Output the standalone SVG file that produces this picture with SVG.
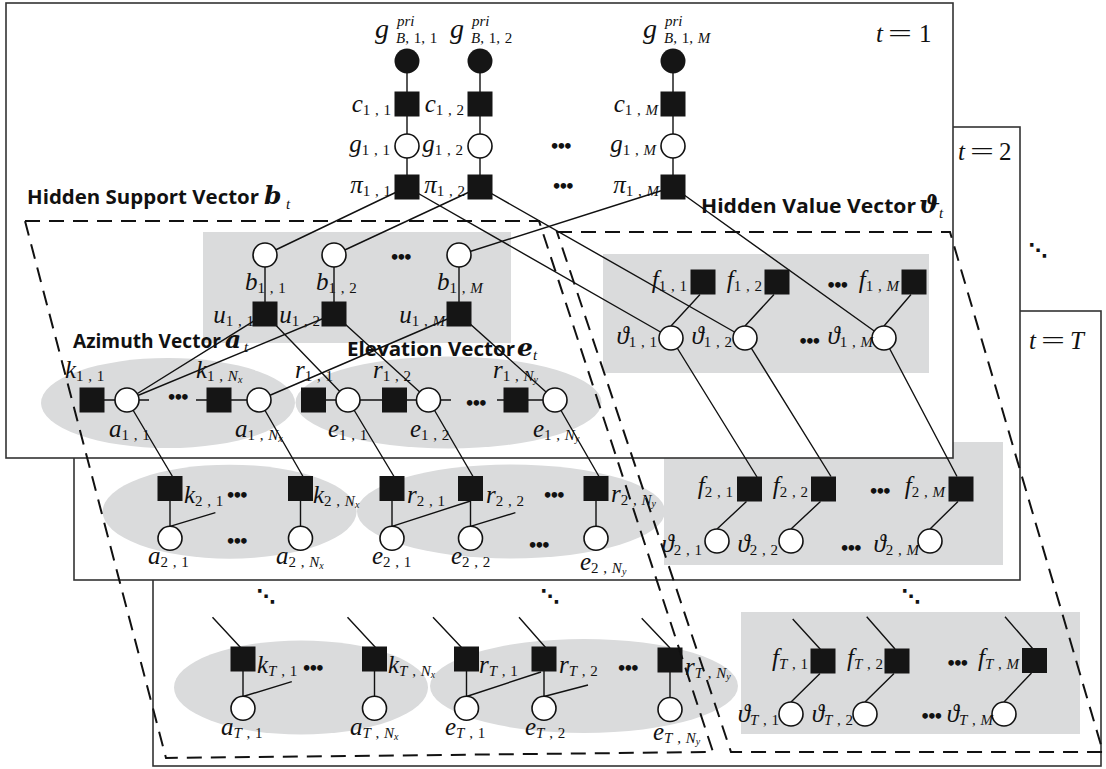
<svg xmlns="http://www.w3.org/2000/svg" width="1106" height="769" viewBox="0 0 1106 769">
<style>
.frame{fill:#fff;stroke:#333;stroke-width:1.6}
.region{fill:#dadbdc}
.edge{stroke:#111;stroke-width:1.4;fill:none}
.fac{fill:#151515}
.var{fill:#fff;stroke:#111;stroke-width:1.6}
.obs{fill:#151515}
.zone{fill:none;stroke:#111;stroke-width:2;stroke-dasharray:15 9}
text{fill:#111}
.m{font-family:"Liberation Serif","DejaVu Serif",serif;font-size:25px;font-style:italic}
.big{font-size:28px}
.e{text-anchor:end}
.s{font-size:15px;font-style:normal;word-spacing:1px}
.i{font-style:italic}
.ss{font-size:10px;font-style:italic}
.sup{font-family:"Liberation Serif",serif;font-size:15px;font-style:italic}
.up{font-family:"Liberation Serif",serif;font-size:25px}
.cap{font-family:"Open Sans","Noto Sans",sans-serif;font-weight:bold;font-size:19px}
.vec{font-family:"DejaVu Serif","Liberation Serif",serif;font-weight:bold;font-style:italic;font-size:25px}
.vs{font-family:"Liberation Serif",serif;font-style:italic;font-size:15px}
.dots{font-family:"DejaVu Sans",sans-serif;font-size:16px;font-weight:bold;letter-spacing:-3.6px}
.ddots{font-family:"DejaVu Sans",sans-serif;font-size:19px;font-weight:bold;text-anchor:middle}
</style>

<!-- time slice t = T (back) -->
<g id="slice-T">
  <rect class="frame" x="153" y="311" width="948" height="455"/>
  <ellipse class="region" cx="301" cy="687.5" rx="127" ry="47"/>
  <ellipse class="region" cx="584" cy="686" rx="154" ry="47"/>
  <rect class="region" x="741" y="612" width="339" height="122"/>
</g>
<!-- time slice t = 2 -->
<g id="slice-2">
  <rect class="frame" x="74" y="127" width="946" height="453"/>
  <ellipse class="region" cx="229.6" cy="511.7" rx="127" ry="47"/>
  <ellipse class="region" cx="511" cy="511.5" rx="154" ry="47"/>
  <rect class="region" x="664" y="442" width="339" height="123"/>
</g>
<!-- time slice t = 1 (front) -->
<g id="slice-1">
  <rect class="frame" x="6" y="3" width="947" height="455"/>
  <rect class="region" x="203" y="232" width="308" height="111"/>
  <rect class="region" x="603" y="254" width="326" height="119"/>
  <ellipse class="region" cx="168" cy="403" rx="127" ry="45"/>
  <ellipse class="region" cx="448.5" cy="402.5" rx="153" ry="46"/>
</g>

<g id="connectors" class="edge">
  <!-- prior chains -->
  <path d="M407 61V187M480 61V187M673 61V187"/>
  <!-- pi to support / value -->
  <path d="M407 187L265 255M480 187L334 255M673 187L459 255"/>
  <path d="M407 187L671 338M480 187L745 338M673 187L884 338"/>
  <!-- b to u -->
  <path d="M265 255V314M334 255V314M459 255V314"/>
  <!-- u to azimuth / elevation -->
  <path d="M265 314L127 400M265 314L348 400M334 314L127 400M334 314L428.5 400M459 314L259 400M459 314L555 400"/>
  <!-- t=1 chains -->
  <path d="M92 400H149M196 400H259M313.5 400H451M497 400H555"/>
  <path d="M700 294.5L671 326M774 294.5L745 326M911 294.5L884 326"/>
  <!-- t=1 to t=2 -->
  <path d="M127 400L172.5 476.5M259 400L303 476.5M348 400L394 476.5M428.5 400L473 476.5M555 400L599 476.5"/>
  <path d="M671 338L757 477M745 338L831 476.5M884 338L957 476.5"/>
  <!-- t=2 -->
  <path d="M170 488.5V538.3M300.5 488.5V538.3M392 488.5V538.3M470.5 488.5V538.3M596 488.5V538.3"/>
  <path d="M170 526.3L215.4 512.7M392 526.3L470.5 501M470.5 526.3L515.4 512.7"/>
  <path d="M746.5 501.5L717 529M820.5 501.5L791 529M958 501.5L930 529"/>
  <!-- t=T -->
  <path d="M212.5 617.3L241 648M347.5 617.3L376 648M433 617.3L462 648M519 617.3L546 648M641.7 618.3L670 648"/>
  <path d="M792.7 619L821 650M866.7 616.7L895 649M1005 616.7L1033 649"/>
  <path d="M243 659V708.3M374.5 659V708.3M466.5 659V708.3M544 659V708.3M670 660V709.5"/>
  <path d="M243 696.5L291.8 681.7M466.5 696.5L541 672M544 696.5L588 685"/>
  <path d="M820 673.5L791 702M894 673.5L865 702M1031.5 673L1004 702"/>
</g>

<!-- ===== t = 1 nodes ===== -->
<g id="gpri-1-1"><circle class="obs" cx="407" cy="61" r="12.5"/><text class="m big" x="375" y="38">g</text><text class="sup" x="397" y="26">pri</text><text class="m" x="396" y="43"><tspan class="s"><tspan class="i">B</tspan>, 1, 1</tspan></text></g>
<g id="gpri-1-2"><circle class="obs" cx="480" cy="61" r="12.5"/><text class="m big" x="450" y="38">g</text><text class="sup" x="472" y="26">pri</text><text class="m" x="471" y="43"><tspan class="s"><tspan class="i">B</tspan>, 1, 2</tspan></text></g>
<g id="gpri-1-M"><circle class="obs" cx="673" cy="61" r="12.5"/><text class="m big" x="643" y="38">g</text><text class="sup" x="665" y="26">pri</text><text class="m" x="664" y="43"><tspan class="s"><tspan class="i">B</tspan>, 1, <tspan class="i">M</tspan></tspan></text></g>

<g id="c-1-1"><rect class="fac" x="394.5" y="91.5" width="25" height="25"/><text class="m e" x="391" y="112">c<tspan class="s" dy="3">1 , 1</tspan></text></g>
<g id="c-1-2"><rect class="fac" x="467.5" y="91.5" width="25" height="25"/><text class="m e" x="464" y="112">c<tspan class="s" dy="3">1 , 2</tspan></text></g>
<g id="c-1-M"><rect class="fac" x="660.5" y="91.5" width="25" height="25"/><text class="m e" x="658" y="112">c<tspan class="s" dy="3">1 , <tspan class="i">M</tspan></tspan></text></g>

<g id="g-1-1"><circle class="var" cx="407" cy="146" r="12"/><text class="m e" x="390" y="152">g<tspan class="s" dy="3">1 , 1</tspan></text></g>
<g id="g-1-2"><circle class="var" cx="480" cy="146" r="12"/><text class="m e" x="463" y="152">g<tspan class="s" dy="3">1 , 2</tspan></text></g>
<g id="g-1-M"><circle class="var" cx="673" cy="146" r="12"/><text class="m e" x="656" y="152">g<tspan class="s" dy="3">1 , <tspan class="i">M</tspan></tspan></text></g>

<g id="pi-1-1"><rect class="fac" x="394.5" y="174.5" width="25" height="25"/><text class="m e" x="391" y="193">π<tspan class="s" dy="3">1 , 1</tspan></text></g>
<g id="pi-1-2"><rect class="fac" x="467.5" y="174.5" width="25" height="25"/><text class="m e" x="465" y="193">π<tspan class="s" dy="3">1 , 2</tspan></text></g>
<g id="pi-1-M"><rect class="fac" x="660.5" y="174.5" width="25" height="25"/><text class="m e" x="659" y="193">π<tspan class="s" dy="3">1 , <tspan class="i">M</tspan></tspan></text></g>

<g id="b-1-1"><circle class="var" cx="265" cy="255" r="12"/><text class="m" x="245" y="290">b<tspan class="s" dy="3">1 , 1</tspan></text></g>
<g id="b-1-2"><circle class="var" cx="334" cy="255" r="12"/><text class="m" x="316" y="290">b<tspan class="s" dy="3">1 , 2</tspan></text></g>
<g id="b-1-M"><circle class="var" cx="459" cy="255" r="12"/><text class="m" x="437" y="290">b<tspan class="s" dy="3">1 , <tspan class="i">M</tspan></tspan></text></g>

<g id="u-1-1"><rect class="fac" x="252.5" y="301.5" width="25" height="25"/><text class="m e" x="254" y="323">u<tspan class="s" dy="3">1 , 1</tspan></text></g>
<g id="u-1-2"><rect class="fac" x="321.5" y="301.5" width="25" height="25"/><text class="m e" x="320" y="323">u<tspan class="s" dy="3">1 , 2</tspan></text></g>
<g id="u-1-M"><rect class="fac" x="446.5" y="301.5" width="25" height="25"/><text class="m e" x="445" y="323">u<tspan class="s" dy="3">1 , <tspan class="i">M</tspan></tspan></text></g>

<g id="f-1-1"><rect class="fac" x="690.5" y="269.5" width="25" height="25"/><text class="m e" x="687" y="288">f<tspan class="s" dy="3">1 , 1</tspan></text></g>
<g id="f-1-2"><rect class="fac" x="764.5" y="269.5" width="25" height="25"/><text class="m e" x="762" y="288">f<tspan class="s" dy="3">1 , 2</tspan></text></g>
<g id="f-1-M"><rect class="fac" x="901.5" y="269.5" width="25" height="25"/><text class="m e" x="899" y="288">f<tspan class="s" dy="3">1 , <tspan class="i">M</tspan></tspan></text></g>

<g id="th-1-1"><circle class="var" cx="671" cy="338" r="12"/><text class="m e" x="657" y="344">ϑ<tspan class="s" dy="3">1 , 1</tspan></text></g>
<g id="th-1-2"><circle class="var" cx="745" cy="338" r="12"/><text class="m e" x="732" y="344">ϑ<tspan class="s" dy="3">1 , 2</tspan></text></g>
<g id="th-1-M"><circle class="var" cx="884" cy="338" r="12"/><text class="m e" x="873" y="344">ϑ<tspan class="s" dy="3">1 , <tspan class="i">M</tspan></tspan></text></g>

<g id="k-1-1"><rect class="fac" x="79.5" y="387.5" width="25" height="25"/><text class="m" x="65" y="378">k<tspan class="s" dy="3">1 , 1</tspan></text></g>
<g id="a-1-1"><circle class="var" cx="127" cy="400" r="12"/><text class="m" x="109" y="437">a<tspan class="s" dy="3">1 , 1</tspan></text></g>
<g id="k-1-Nx"><rect class="fac" x="206.5" y="387.5" width="25" height="25"/><text class="m" x="196" y="378">k<tspan class="s" dy="3">1 , <tspan class="i">N</tspan></tspan><tspan class="ss" dy="2">x</tspan></text></g>
<g id="a-1-Nx"><circle class="var" cx="259" cy="400" r="12"/><text class="m" x="235" y="437">a<tspan class="s" dy="3">1 , <tspan class="i">N</tspan></tspan><tspan class="ss" dy="2">x</tspan></text></g>

<g id="r-1-1"><rect class="fac" x="301" y="387.5" width="25" height="25"/><text class="m" x="295" y="378">r<tspan class="s" dy="3">1 , 1</tspan></text></g>
<g id="e-1-1"><circle class="var" cx="348" cy="400" r="12"/><text class="m" x="328" y="437">e<tspan class="s" dy="3">1 , 1</tspan></text></g>
<g id="r-1-2"><rect class="fac" x="382" y="387.5" width="25" height="25"/><text class="m" x="373" y="378">r<tspan class="s" dy="3">1 , 2</tspan></text></g>
<g id="e-1-2"><circle class="var" cx="428.5" cy="400" r="12"/><text class="m" x="410" y="437">e<tspan class="s" dy="3">1 , 2</tspan></text></g>
<g id="r-1-Ny"><rect class="fac" x="503.5" y="387.5" width="25" height="25"/><text class="m" x="493" y="378">r<tspan class="s" dy="3">1 , <tspan class="i">N</tspan></tspan><tspan class="ss" dy="2">y</tspan></text></g>
<g id="e-1-Ny"><circle class="var" cx="555" cy="400" r="12"/><text class="m" x="533" y="437">e<tspan class="s" dy="3">1 , <tspan class="i">N</tspan></tspan><tspan class="ss" dy="2">y</tspan></text></g>

<!-- ===== t = 2 nodes ===== -->
<g id="k-2-1"><rect class="fac" x="157.5" y="476" width="25" height="25"/><text class="m" x="184" y="503">k<tspan class="s" dy="3">2 , 1</tspan></text></g>
<g id="a-2-1"><circle class="var" cx="170" cy="538.3" r="12"/><text class="m" x="148" y="564">a<tspan class="s" dy="3">2 , 1</tspan></text></g>
<g id="k-2-Nx"><rect class="fac" x="288" y="476" width="25" height="25"/><text class="m" x="313" y="503">k<tspan class="s" dy="3">2 , <tspan class="i">N</tspan></tspan><tspan class="ss" dy="2">x</tspan></text></g>
<g id="a-2-Nx"><circle class="var" cx="300.5" cy="538.3" r="12"/><text class="m" x="276" y="564">a<tspan class="s" dy="3">2 , <tspan class="i">N</tspan></tspan><tspan class="ss" dy="2">x</tspan></text></g>
<g id="r-2-1"><rect class="fac" x="379.5" y="476" width="25" height="25"/><text class="m" x="407" y="503">r<tspan class="s" dy="3">2 , 1</tspan></text></g>
<g id="e-2-1"><circle class="var" cx="392" cy="538.3" r="12"/><text class="m" x="372" y="564">e<tspan class="s" dy="3">2 , 1</tspan></text></g>
<g id="r-2-2"><rect class="fac" x="458" y="476" width="25" height="25"/><text class="m" x="486" y="503">r<tspan class="s" dy="3">2 , 2</tspan></text></g>
<g id="e-2-2"><circle class="var" cx="470.5" cy="538.3" r="12"/><text class="m" x="451" y="564">e<tspan class="s" dy="3">2 , 2</tspan></text></g>
<g id="r-2-Ny"><rect class="fac" x="583.5" y="476" width="25" height="25"/><text class="m" x="611" y="502">r<tspan class="s" dy="3">2 , <tspan class="i">N</tspan></tspan><tspan class="ss" dy="2">y</tspan></text></g>
<g id="e-2-Ny"><circle class="var" cx="596" cy="538.3" r="12"/><text class="m" x="580" y="570">e<tspan class="s" dy="3">2 , <tspan class="i">N</tspan></tspan><tspan class="ss" dy="2">y</tspan></text></g>

<g id="f-2-1"><rect class="fac" x="737" y="476.5" width="25" height="25"/><text class="m e" x="733" y="494">f<tspan class="s" dy="3">2 , 1</tspan></text></g>
<g id="f-2-2"><rect class="fac" x="811" y="476.5" width="25" height="25"/><text class="m e" x="808" y="494">f<tspan class="s" dy="3">2 , 2</tspan></text></g>
<g id="f-2-M"><rect class="fac" x="948.5" y="476.5" width="25" height="25"/><text class="m e" x="945" y="494">f<tspan class="s" dy="3">2 , <tspan class="i">M</tspan></tspan></text></g>
<g id="th-2-1"><circle class="var" cx="717" cy="541" r="12"/><text class="m e" x="702" y="552">ϑ<tspan class="s" dy="3">2 , 1</tspan></text></g>
<g id="th-2-2"><circle class="var" cx="791" cy="541" r="12"/><text class="m e" x="778" y="552">ϑ<tspan class="s" dy="3">2 , 2</tspan></text></g>
<g id="th-2-M"><circle class="var" cx="930" cy="541" r="12"/><text class="m e" x="919" y="552">ϑ<tspan class="s" dy="3">2 , <tspan class="i">M</tspan></tspan></text></g>

<!-- ===== t = T nodes ===== -->
<g id="k-T-1"><rect class="fac" x="230.5" y="646.5" width="25" height="25"/><text class="m" x="257" y="673">k<tspan class="s" dy="3"><tspan class="i">T</tspan> , 1</tspan></text></g>
<g id="a-T-1"><circle class="var" cx="243" cy="708.3" r="12"/><text class="m" x="221" y="735">a<tspan class="s" dy="3"><tspan class="i">T</tspan> , 1</tspan></text></g>
<g id="k-T-Nx"><rect class="fac" x="362" y="646.5" width="25" height="25"/><text class="m" x="388" y="673">k<tspan class="s" dy="3"><tspan class="i">T</tspan> , <tspan class="i">N</tspan></tspan><tspan class="ss" dy="2">x</tspan></text></g>
<g id="a-T-Nx"><circle class="var" cx="374.5" cy="708.3" r="12"/><text class="m" x="350" y="735">a<tspan class="s" dy="3"><tspan class="i">T</tspan> , <tspan class="i">N</tspan></tspan><tspan class="ss" dy="2">x</tspan></text></g>
<g id="r-T-1"><rect class="fac" x="454" y="646.5" width="25" height="25"/><text class="m" x="479" y="673">r<tspan class="s" dy="3"><tspan class="i">T</tspan> , 1</tspan></text></g>
<g id="e-T-1"><circle class="var" cx="466.5" cy="708.3" r="12"/><text class="m" x="445" y="735">e<tspan class="s" dy="3"><tspan class="i">T</tspan> , 1</tspan></text></g>
<g id="r-T-2"><rect class="fac" x="531.5" y="646.5" width="25" height="25"/><text class="m" x="559" y="673">r<tspan class="s" dy="3"><tspan class="i">T</tspan> , 2</tspan></text></g>
<g id="e-T-2"><circle class="var" cx="544" cy="708.3" r="12"/><text class="m" x="525" y="735">e<tspan class="s" dy="3"><tspan class="i">T</tspan> , 2</tspan></text></g>
<g id="r-T-Ny"><rect class="fac" x="657.5" y="647.5" width="25" height="25"/><text class="m" x="685" y="675">r<tspan class="s" dy="3"><tspan class="i">T</tspan> , <tspan class="i">N</tspan></tspan><tspan class="ss" dy="2">y</tspan></text></g>
<g id="e-T-Ny"><circle class="var" cx="670" cy="709.5" r="12"/><text class="m" x="653" y="740">e<tspan class="s" dy="3"><tspan class="i">T</tspan> , <tspan class="i">N</tspan></tspan><tspan class="ss" dy="2">y</tspan></text></g>

<g id="f-T-1"><rect class="fac" x="810.5" y="648.5" width="25" height="25"/><text class="m e" x="808" y="666">f<tspan class="s" dy="3"><tspan class="i">T</tspan> , 1</tspan></text></g>
<g id="f-T-2"><rect class="fac" x="884.5" y="648.5" width="25" height="25"/><text class="m e" x="883" y="666">f<tspan class="s" dy="3"><tspan class="i">T</tspan> , 2</tspan></text></g>
<g id="f-T-M"><rect class="fac" x="1022" y="648" width="25" height="25"/><text class="m e" x="1019" y="666">f<tspan class="s" dy="3"><tspan class="i">T</tspan> , <tspan class="i">M</tspan></tspan></text></g>
<g id="th-T-1"><circle class="var" cx="791" cy="714" r="12"/><text class="m e" x="779" y="722">ϑ<tspan class="s" dy="3"><tspan class="i">T</tspan> , 1</tspan></text></g>
<g id="th-T-2"><circle class="var" cx="865" cy="714" r="12"/><text class="m e" x="853" y="722">ϑ<tspan class="s" dy="3"><tspan class="i">T</tspan> , 2</tspan></text></g>
<g id="th-T-M"><circle class="var" cx="1004" cy="714" r="12"/><text class="m e" x="993" y="722">ϑ<tspan class="s" dy="3"><tspan class="i">T</tspan> , <tspan class="i">M</tspan></tspan></text></g>

<!-- ellipses between repeated nodes -->
<g id="ellipsis-marks">
  <text class="dots" x="549.5" y="152">•••</text>
  <text class="dots" x="551.5" y="192">•••</text>
  <text class="dots" x="389.5" y="262.5">•••</text>
  <text class="dots" x="166.5" y="402.5">•••</text>
  <text class="dots" x="464.5" y="408.5">•••</text>
  <text class="dots" x="826" y="290.5">•••</text>
  <text class="dots" x="798" y="346.5">•••</text>
  <text class="dots" x="225.5" y="500.5">•••</text>
  <text class="dots" x="225.5" y="547">•••</text>
  <text class="dots" x="542.5" y="500.5">•••</text>
  <text class="dots" x="527.5" y="550.5">•••</text>
  <text class="dots" x="868.5" y="497">•••</text>
  <text class="dots" x="839.5" y="553.5">•••</text>
  <text class="dots" x="301.5" y="673.5">•••</text>
  <text class="dots" x="616.5" y="673.5">•••</text>
  <text class="dots" x="946" y="668.5">•••</text>
  <text class="dots" x="920" y="722">•••</text>
  <text class="ddots" x="1038" y="257">⋱</text>
  <text class="ddots" x="266" y="603">⋱</text>
  <text class="ddots" x="550" y="603">⋱</text>
  <text class="ddots" x="911" y="603">⋱</text>
</g>

<!-- slice labels -->
<g id="slice-labels">
  <text class="m" x="876" y="42">t</text><text class="up" transform="translate(888 42) scale(1.7 1)">=</text><text class="up" x="919" y="42">1</text>
  <text class="m" x="958" y="160">t</text><text class="up" transform="translate(970 160) scale(1.7 1)">=</text><text class="up" x="999" y="160">2</text>
  <text class="m" x="1029" y="349">t</text><text class="up" transform="translate(1041 349) scale(1.7 1)">=</text><text class="m" x="1070" y="349">T</text>
</g>

<!-- group captions -->
<g id="captions">
  <text class="cap" x="27" y="204" textLength="232" lengthAdjust="spacingAndGlyphs">Hidden Support Vector</text>
  <text class="vec" x="264" y="204">b</text><text class="vs" x="286" y="209">t</text>
  <text class="cap" x="701" y="213" textLength="215" lengthAdjust="spacingAndGlyphs">Hidden Value Vector</text>
  <text class="vec" x="919" y="213">ϑ</text><text class="vs" x="939" y="218">t</text>
  <text class="cap" x="73" y="348" textLength="148" lengthAdjust="spacingAndGlyphs">Azimuth Vector</text>
  <text class="vec" x="225" y="348">a</text><text class="vs" x="244" y="352">t</text>
  <text class="cap" x="347" y="356" textLength="168" lengthAdjust="spacingAndGlyphs">Elevation Vector</text>
  <text class="vec" x="517" y="356">e</text><text class="vs" x="533" y="360">t</text>
</g>

<!-- dashed groupings: support/angle part and value part -->
<g id="groupings">
  <path class="zone" d="M25 221L539 221L713 752L166 758Z"/>
  <path class="zone" d="M557 232L950 232L1103 752L731 752Z"/>
</g>
</svg>
